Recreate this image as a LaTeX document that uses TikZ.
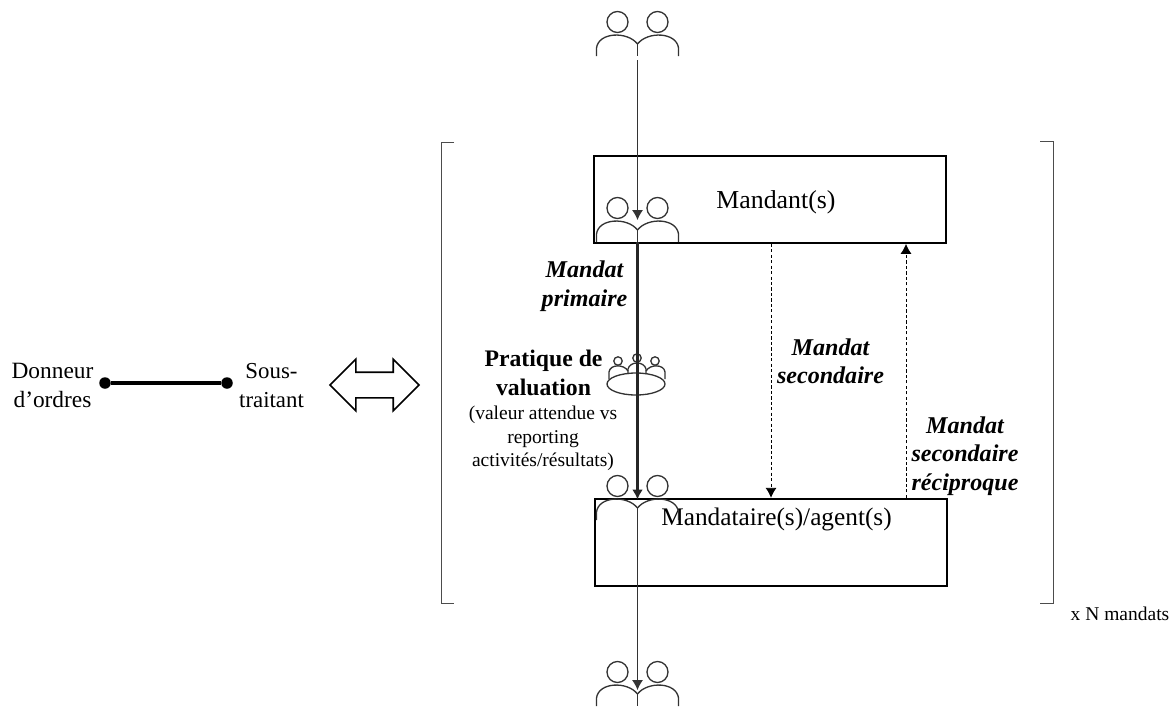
\documentclass[tikz,border=0pt]{standalone}
\usepackage{fontspec}
\setmainfont{Liberation Serif}
\usetikzlibrary{arrows.meta}
\usetikzlibrary{shapes.arrows}
\usetikzlibrary{shapes.geometric}
\tikzset{
  duo/.pic={
    \draw[iconLine] (-20,-34) circle (10.5) (20,-34) circle (10.5);
    \draw[iconLine] (-41,0) -- (-41,-8) .. controls (-39,-24) and (-10,-25) .. (0,-12)
      .. controls (10,-25) and (39,-24) .. (41,-8) -- (41,0);
    \draw[iconLine] (0,-12) -- (0,0);
  },
}
\begin{document}
\begin{tikzpicture}
[x=0.02cm,y=-0.02cm,%
  iconLine/.style={line width=0.75pt,black!80},%
  boxDecorate/.style={draw,line width=1pt,minimum width=7.04cm,minimum height=1.74cm,inner sep=0pt},%
  bracketLine/.style={line width=0.45pt,black!70},%
  dotDecorate/.style={circle,fill,inner sep=0pt,minimum size=0.23cm},%
  flowThin/.style={-{Latex[length=0.2cm,width=0.22cm]},line width=0.5pt,black!80},%
  flowThick/.style={-{Latex[length=0.2cm,width=0.22cm]},line width=1.2pt,black!85},%
  flowDash/.style={-{Latex[length=0.2cm,width=0.22cm]},dash pattern=on 1.8pt off 1.3pt,line width=0.5pt},%
  plainText/.style={font=\fontsize{14.4}{16.5}\selectfont,align=center,inner sep=0pt},%
  sideText/.style={font=\fontsize{13.3}{16}\selectfont,align=center,inner sep=0pt},%
  smallText/.style={font=\fontsize{11.1}{13.3}\selectfont,align=center,inner sep=0pt},%
  boldText/.style={font=\fontsize{13.5}{16.2}\selectfont\bfseries,align=center,inner sep=0pt},%
  mandatText/.style={font=\fontsize{13.7}{16.2}\selectfont\bfseries\itshape,align=center,inner sep=0pt}]
\useasboundingbox (0,0) rectangle (1175,707);
%% boxes
\node[boxDecorate] (mandant) at (770,199.5) {};
\node[boxDecorate] (agent) at (771,542.2) {};
\node[plainText,font=\fontsize{14.7}{16.5}\selectfont] (mandantLabel) at (776,202) {Mandant(s)};
\node[plainText] (agentLabel) at (776.5,519) {Mandataire(s)/agent(s)};
%% people
\foreach \picname/\y in {top/56, upper/242, lower/520, bottom/706}
{
  \pic (\picname) at (637.5,\y) {duo};
  \coordinate (\picname Foot) at (637.5,\y);
}
%% meeting table
\node[draw,ellipse,iconLine,minimum width=1.16cm,minimum height=0.44cm,inner sep=0pt] (table) at (636,384) {};
\foreach \x/\y in {618/361, 637/358, 655/361}
{
  \draw[iconLine] (\x,\y) circle (4.2);
}
\draw[iconLine] (609,379) -- (609,372) .. controls (610,364) and (624,364) .. (628,371);
\draw[iconLine] (628,374) -- (628,369) .. controls (630,361) and (644,361) .. (646,369) -- (646,374);
\draw[iconLine] (646,371) .. controls (650,364) and (664,364) .. (665,372) -- (665,379);
%% vertical flows
\coordinate (topStart) at (637.5,60);
\coordinate (topTip) at (637.5,220);
\coordinate (lowerTip) at (637.5,499.5);
\coordinate (bottomTip) at (637.5,690);
\draw[flowThin] (topStart) -- (topTip);
\draw[flowThick] (upperFoot) -- (lowerTip);
\draw[flowThin] (lowerFoot) -- (bottomTip);
%% secondary mandates
\coordinate (secondA) at (771,0);
\coordinate (secondB) at (906,0);
\draw[flowDash] (secondA |- mandant.south) -- (secondA |- agent.north);
\draw[flowDash] (secondB |- agent.north) -- (secondB |- mandant.south);
%% brackets
\coordinate (leftTop) at (441,142);
\coordinate (leftBottom) at (441,603);
\coordinate (rightTop) at (1053,141);
\coordinate (rightBottom) at (1053,603);
\draw[bracketLine] ([xshift=0.26cm]leftTop) -- (leftTop) -- (leftBottom) -- ([xshift=0.26cm]leftBottom);
\draw[bracketLine] ([xshift=-0.26cm]rightTop) -- (rightTop) -- (rightBottom) -- ([xshift=-0.26cm]rightBottom);
%% labels
\node[mandatText] (primaire) at (584.5,286) {Mandat\\primaire};
\node[boldText] (pratique) at (543.5,373) {Pratique de\\valuation};
\node[smallText] (valeur) at (543,438.5) {(valeur attendue vs\\reporting\\activités/résultats)};
\node[mandatText] (secondaire) at (830.5,361.5) {Mandat\\secondaire};
\node[mandatText] (reciproque) at (965,456) {Mandat\\secondaire\\réciproque};
\node[smallText] (nbMandats) at (1120,614) {x N mandats};
%% left part
\node[sideText] (donneur) at (52.5,385.5) {Donneur\\d’ordres};
\node[sideText,font=\fontsize{13}{16}\selectfont] (sous) at (271.5,385.5) {Sous-\\traitant};
\node[dotDecorate] (dotA) at (105,383) {};
\node[dotDecorate] (dotB) at (227,383) {};
\draw[line width=1.8pt] (dotA) -- (dotB);
\node[double arrow,draw,line width=0.9pt,inner sep=0.24cm,minimum height=1.78cm,
  double arrow head extend=0.26cm,double arrow head indent=0pt] (swap) at (374.5,385) {};
\end{tikzpicture}
\end{document}
